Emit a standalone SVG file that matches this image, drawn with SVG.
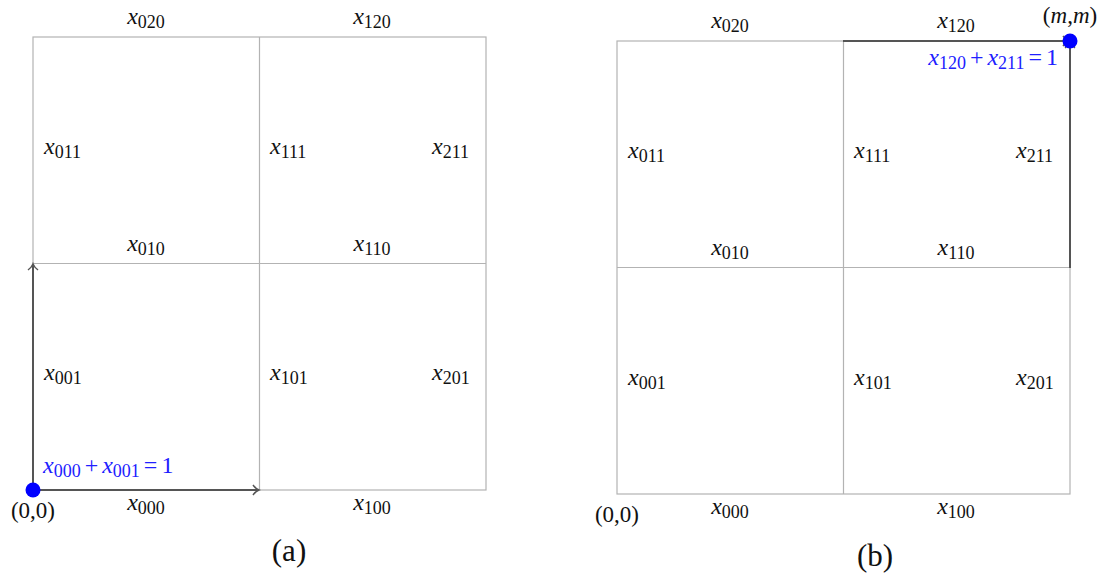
<svg xmlns="http://www.w3.org/2000/svg" width="1106" height="575" viewBox="0 0 1106 575">
<style>
.g{stroke:#b3b3b3;stroke-width:1.2;fill:none}
.a{stroke:#555;stroke-width:2;fill:none}
.t{font-family:"Liberation Serif",serif;font-size:24px;fill:#111}
.t tspan.s{font-size:18px;font-style:normal}
.i{font-style:italic}
.b{fill:#2020ff}
.c{text-anchor:middle}
.p{font-size:23px}
.f{font-size:31px}
</style>
<defs>
<marker id="ah" viewBox="-8 -6 10 12" markerWidth="10" markerHeight="12" refX="0" refY="0" orient="auto" markerUnits="userSpaceOnUse">
<path d="M-6,-5 Q-3,-1 0,0 Q-3,1 -6,5" stroke="#555" stroke-width="1.5" fill="none"/>
</marker>
</defs>
<g id="gridA">
<rect class="g" x="33" y="37" width="453" height="453"/>
<line class="g" x1="259.5" y1="37" x2="259.5" y2="490"/>
<line class="g" x1="33" y1="263.5" x2="486" y2="263.5"/>
</g>
<g id="gridB">
<rect class="g" x="617" y="41" width="453" height="453"/>
<line class="g" x1="843.5" y1="41" x2="843.5" y2="494"/>
<line class="g" x1="617" y1="267.5" x2="1070" y2="267.5"/>
</g>
<g id="connectors">
<line class="a" x1="33" y1="490" x2="33" y2="264" marker-end="url(#ah)"/>
<line class="a" x1="33" y1="490" x2="259" y2="490" marker-end="url(#ah)"/>
<line class="a" x1="843" y1="41" x2="1069" y2="41" marker-end="url(#ah)"/>
<line class="a" x1="1070" y1="268" x2="1070" y2="42" marker-end="url(#ah)"/>
</g>
<g id="nodeA-origin"><circle cx="33" cy="490" r="7.5" fill="#0000ff"/></g>
<g id="nodeB-end"><circle cx="1070" cy="41" r="7.5" fill="#0000ff"/></g>
<g id="labelsA">
<text class="t c" x="146" y="24"><tspan class="i">x</tspan><tspan class="s" dy="4">020</tspan></text>
<text class="t c" x="372" y="24"><tspan class="i">x</tspan><tspan class="s" dy="4">120</tspan></text>
<text class="t" x="44" y="154"><tspan class="i">x</tspan><tspan class="s" dy="4">011</tspan></text>
<text class="t" x="270" y="154"><tspan class="i">x</tspan><tspan class="s" dy="4">111</tspan></text>
<text class="t" x="432" y="154"><tspan class="i">x</tspan><tspan class="s" dy="4">211</tspan></text>
<text class="t c" x="146" y="251"><tspan class="i">x</tspan><tspan class="s" dy="4">010</tspan></text>
<text class="t c" x="372" y="251"><tspan class="i">x</tspan><tspan class="s" dy="4">110</tspan></text>
<text class="t" x="44" y="380"><tspan class="i">x</tspan><tspan class="s" dy="4">001</tspan></text>
<text class="t" x="270" y="380"><tspan class="i">x</tspan><tspan class="s" dy="4">101</tspan></text>
<text class="t" x="432" y="380"><tspan class="i">x</tspan><tspan class="s" dy="4">201</tspan></text>
<text class="t c" x="146" y="510"><tspan class="i">x</tspan><tspan class="s" dy="4">000</tspan></text>
<text class="t c" x="372" y="510"><tspan class="i">x</tspan><tspan class="s" dy="4">100</tspan></text>
<text class="t b" x="43" y="473"><tspan class="i">x</tspan><tspan class="s" dy="4">000</tspan><tspan dy="-4" dx="4">+</tspan><tspan class="i" dx="4">x</tspan><tspan class="s" dy="4">001</tspan><tspan dy="-4" dx="4">=</tspan><tspan dx="4">1</tspan></text>
<text class="t c p" x="33" y="518">(0,0)</text>
<text class="t c f" x="289" y="561">(a)</text>
</g>
<g id="labelsB">
<text class="t c" x="730" y="28"><tspan class="i">x</tspan><tspan class="s" dy="4">020</tspan></text>
<text class="t c" x="956" y="28"><tspan class="i">x</tspan><tspan class="s" dy="4">120</tspan></text>
<text class="t" x="628" y="158"><tspan class="i">x</tspan><tspan class="s" dy="4">011</tspan></text>
<text class="t" x="854" y="158"><tspan class="i">x</tspan><tspan class="s" dy="4">111</tspan></text>
<text class="t" x="1016" y="158"><tspan class="i">x</tspan><tspan class="s" dy="4">211</tspan></text>
<text class="t c" x="730" y="255"><tspan class="i">x</tspan><tspan class="s" dy="4">010</tspan></text>
<text class="t c" x="956" y="255"><tspan class="i">x</tspan><tspan class="s" dy="4">110</tspan></text>
<text class="t" x="628" y="385"><tspan class="i">x</tspan><tspan class="s" dy="4">001</tspan></text>
<text class="t" x="854" y="385"><tspan class="i">x</tspan><tspan class="s" dy="4">101</tspan></text>
<text class="t" x="1016" y="385"><tspan class="i">x</tspan><tspan class="s" dy="4">201</tspan></text>
<text class="t c" x="730" y="514"><tspan class="i">x</tspan><tspan class="s" dy="4">000</tspan></text>
<text class="t c" x="956" y="514"><tspan class="i">x</tspan><tspan class="s" dy="4">100</tspan></text>
<text class="t b" x="1058" y="65" text-anchor="end"><tspan class="i">x</tspan><tspan class="s" dy="4">120</tspan><tspan dy="-4" dx="4">+</tspan><tspan class="i" dx="4">x</tspan><tspan class="s" dy="4">211</tspan><tspan dy="-4" dx="4">=</tspan><tspan dx="4">1</tspan></text>
<text class="t c p" x="617" y="522">(0,0)</text>
<text class="t c p" x="1070" y="23">(<tspan class="i">m</tspan>,<tspan class="i">m</tspan>)</text>
<text class="t c f" x="875" y="566">(b)</text>
</g>
</svg>
